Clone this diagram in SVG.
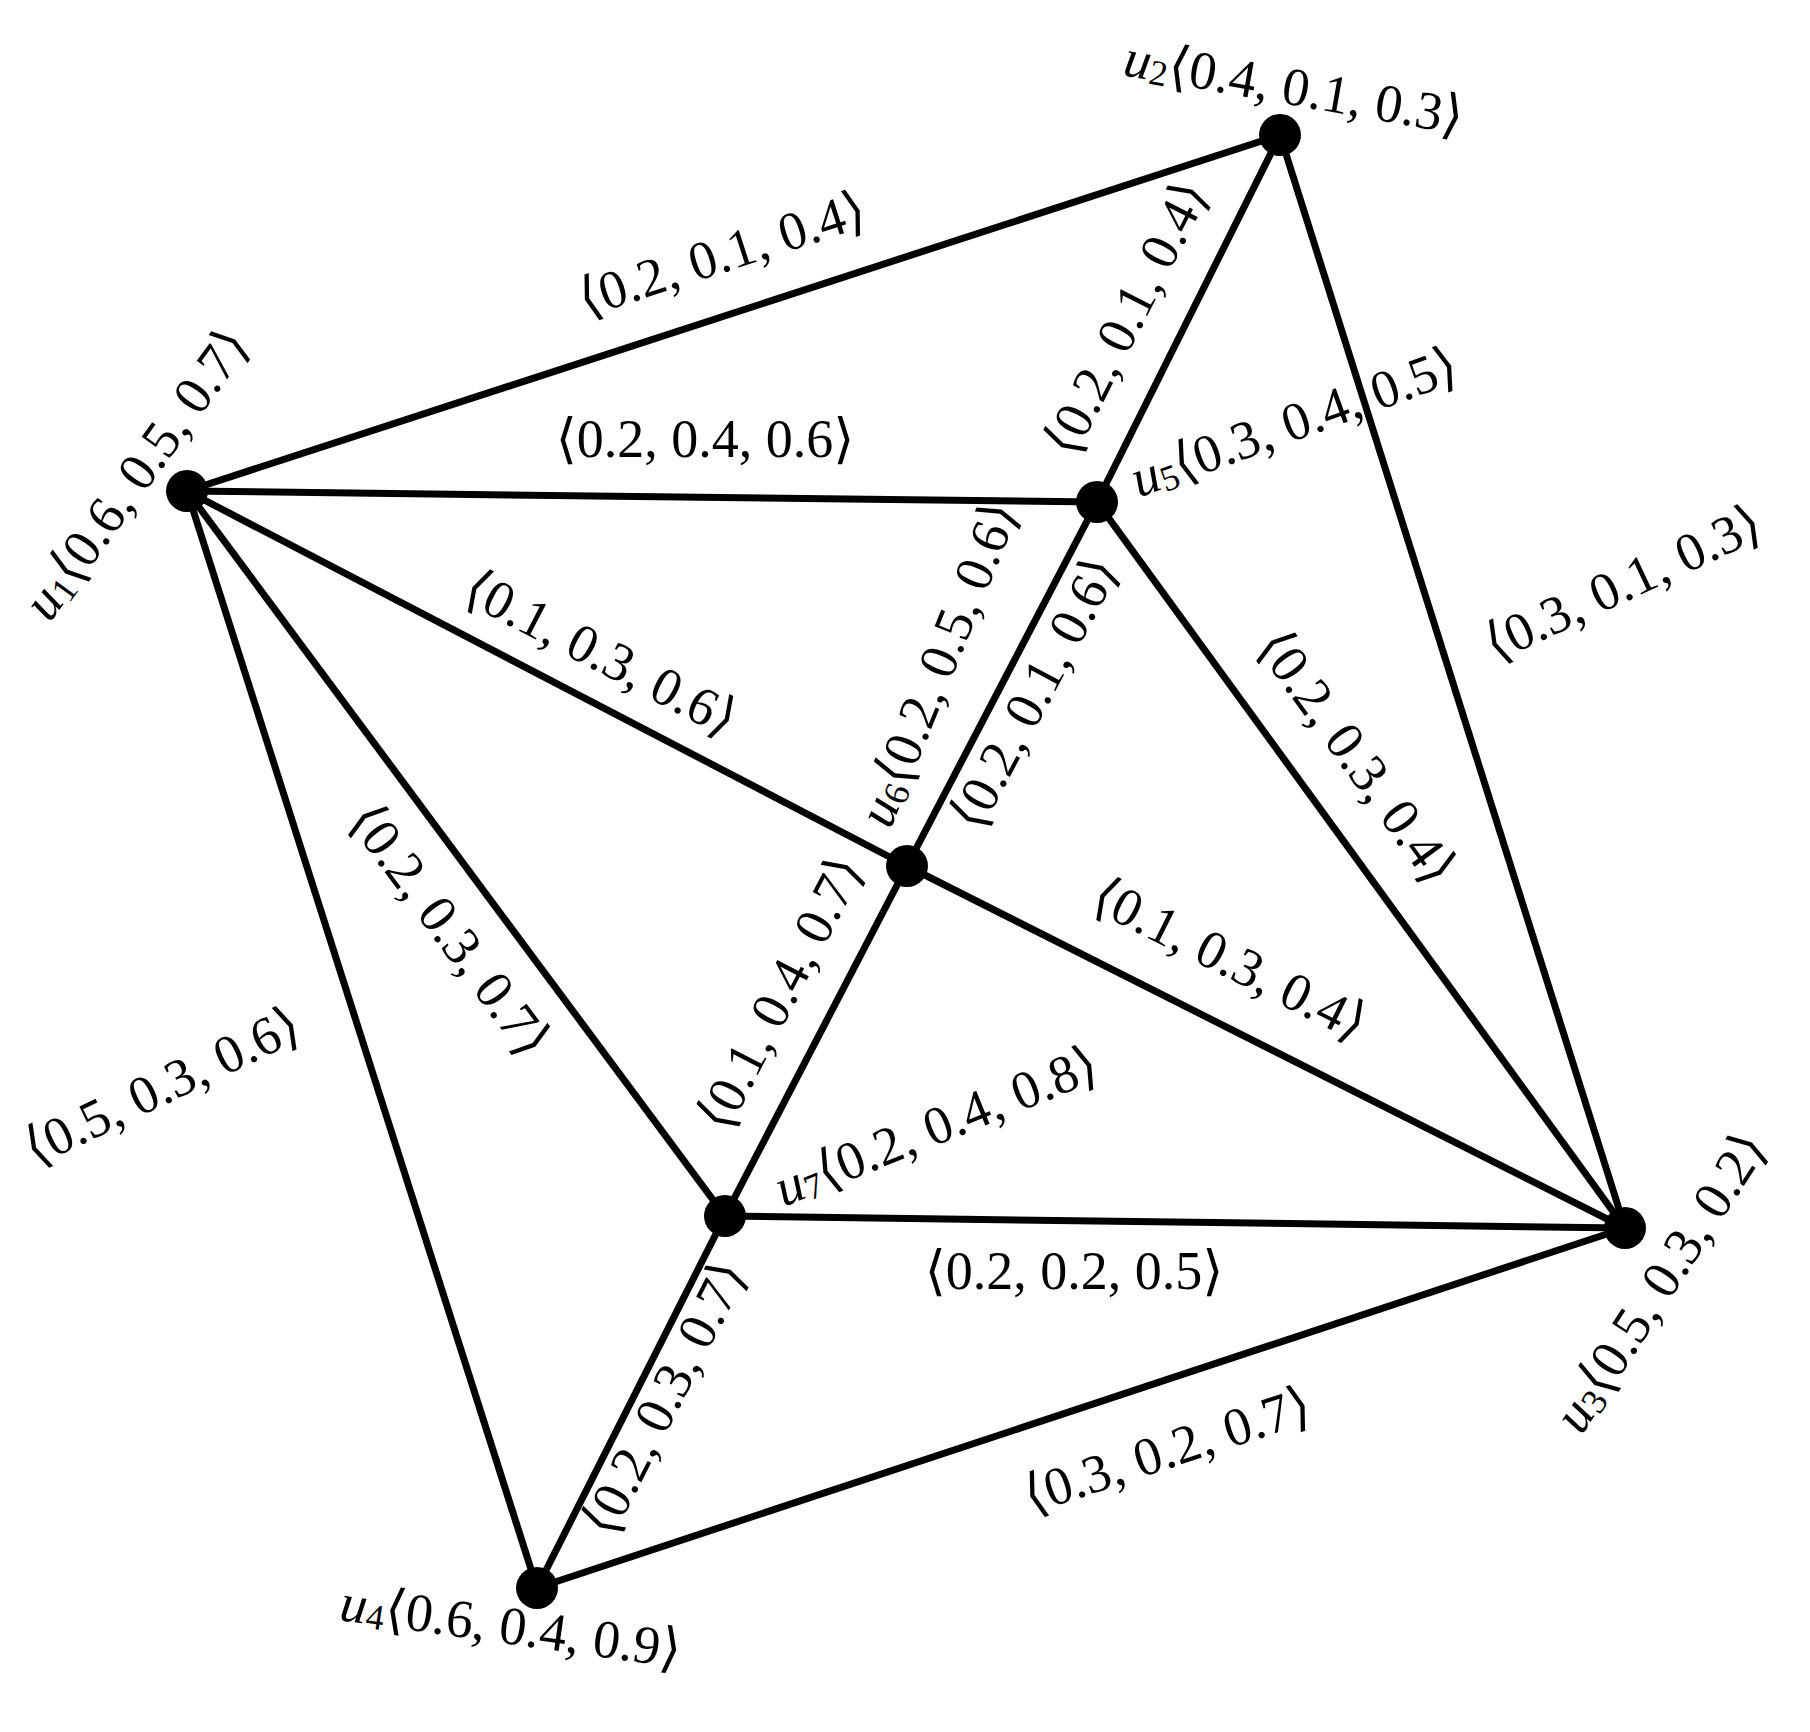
<svg xmlns="http://www.w3.org/2000/svg" width="1810" height="1732" viewBox="0 0 1810 1732">
<style>
.e{stroke:#000;stroke-width:7;fill:none}
.n{fill:#000}
text{font-family:"Liberation Serif","DejaVu Serif",serif;font-size:54px;text-anchor:middle;dominant-baseline:central;fill:#000}
.u{font-style:italic}
.s{font-size:36px}
</style>
<rect width="1810" height="1732" fill="#fff"/>
<g id="edges">
<line class="e" x1="187" y1="491" x2="1280" y2="135"/>
<line class="e" x1="187" y1="491" x2="1097" y2="502"/>
<line class="e" x1="187" y1="491" x2="907" y2="866"/>
<line class="e" x1="187" y1="491" x2="725" y2="1216"/>
<line class="e" x1="187" y1="491" x2="537" y2="1588"/>
<line class="e" x1="1280" y1="135" x2="1097" y2="502"/>
<line class="e" x1="1280" y1="135" x2="1625" y2="1228"/>
<line class="e" x1="1097" y1="502" x2="907" y2="866"/>
<line class="e" x1="1097" y1="502" x2="1625" y2="1228"/>
<line class="e" x1="907" y1="866" x2="1625" y2="1228"/>
<line class="e" x1="907" y1="866" x2="725" y2="1216"/>
<line class="e" x1="725" y1="1216" x2="1625" y2="1228"/>
<line class="e" x1="725" y1="1216" x2="537" y2="1588"/>
<line class="e" x1="537" y1="1588" x2="1625" y2="1228"/>
</g>
<g id="edge-labels">
<text transform="translate(722,254) rotate(-18)">⟨0.2, 0.1, 0.4⟩</text>
<text transform="translate(705,439)">⟨0.2, 0.4, 0.6⟩</text>
<text transform="translate(1126,318) rotate(-63)">⟨0.2, 0.1, 0.4⟩</text>
<text transform="translate(1623,583) rotate(-25)">⟨0.3, 0.1, 0.3⟩</text>
<text transform="translate(601,653) rotate(27.5)">⟨0.1, 0.3, 0.6⟩</text>
<text transform="translate(1034,693) rotate(-62)">⟨0.2, 0.1, 0.6⟩</text>
<text transform="translate(1357,757) rotate(54)">⟨0.2, 0.3, 0.4⟩</text>
<text transform="translate(1230,959) rotate(26.7)">⟨0.1, 0.3, 0.4⟩</text>
<text transform="translate(450,930) rotate(53.4)">⟨0.2, 0.3, 0.7⟩</text>
<text transform="translate(162,1086) rotate(-25.6)">⟨0.5, 0.3, 0.6⟩</text>
<text transform="translate(780,993) rotate(-62.6)">⟨0.1, 0.4, 0.7⟩</text>
<text transform="translate(1074,1271)">⟨0.2, 0.2, 0.5⟩</text>
<text transform="translate(664,1398) rotate(-63)">⟨0.2, 0.3, 0.7⟩</text>
<text transform="translate(1167,1450) rotate(-18.3)">⟨0.3, 0.2, 0.7⟩</text>
</g>
<g id="u1"><circle class="n" cx="187" cy="491" r="21"/><text transform="translate(136,474) rotate(-54)"><tspan class="u">u</tspan><tspan class="s" dy="10">1</tspan><tspan dy="-10">⟨0.6, 0.5, 0.7⟩</tspan></text></g>
<g id="u2"><circle class="n" cx="1280" cy="135" r="21"/><text transform="translate(1294,87) rotate(10)"><tspan class="u">u</tspan><tspan class="s" dy="10">2</tspan><tspan dy="-10">⟨0.4, 0.1, 0.3⟩</tspan></text></g>
<g id="u3"><circle class="n" cx="1625" cy="1228" r="21"/><text transform="translate(1660,1282) rotate(-57)"><tspan class="u">u</tspan><tspan class="s" dy="10">3</tspan><tspan dy="-10">⟨0.5, 0.3, 0.2⟩</tspan></text></g>
<g id="u4"><circle class="n" cx="537" cy="1588" r="21"/><text transform="translate(511,1626) rotate(8)"><tspan class="u">u</tspan><tspan class="s" dy="10">4</tspan><tspan dy="-10">⟨0.6, 0.4, 0.9⟩</tspan></text></g>
<g id="u5"><circle class="n" cx="1097" cy="502" r="21"/><text transform="translate(1294,422) rotate(-20)"><tspan class="u">u</tspan><tspan class="s" dy="10">5</tspan><tspan dy="-10">⟨0.3, 0.4, 0.5⟩</tspan></text></g>
<g id="u6"><circle class="n" cx="907" cy="866" r="21"/><text transform="translate(938,664) rotate(-68)"><tspan class="u">u</tspan><tspan class="s" dy="10">6</tspan><tspan dy="-10">⟨0.2, 0.5, 0.6⟩</tspan></text></g>
<g id="u7"><circle class="n" cx="725" cy="1216" r="21"/><text transform="translate(936,1126) rotate(-22)"><tspan class="u">u</tspan><tspan class="s" dy="10">7</tspan><tspan dy="-10">⟨0.2, 0.4, 0.8⟩</tspan></text></g>
</svg>
